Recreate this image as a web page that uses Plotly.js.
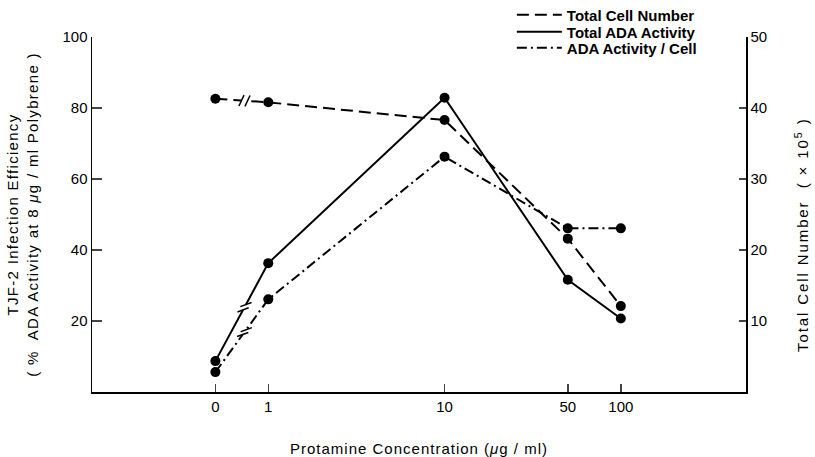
<!DOCTYPE html>
<html><head><meta charset="utf-8">
<script src="https://cdn.plot.ly/plotly-3.0.1.min.js"></script>
<style>
html,body{margin:0;padding:0;background:#fff}
.ytitle{letter-spacing:1.3px}
.xtitle{letter-spacing:1px}
.annotation-text{letter-spacing:1.9px}
</style>
</head><body><div id="chart" style="width:815px;height:457px"></div>
<script>
// ---- data ----
const concentrationLabels = ['0', '1', '10', '50', '100'];
const concentrations = [0, 1, 10, 50, 100];           // µg/ml protamine
const totalCellNumber = [41.3, 40.8, 38.3, 21.6, 12.1]; // ×10^5 cells (right axis)
const totalADAActivity = [8.7, 36.3, 82.9, 31.6, 20.7]; // % (left axis)
const adaActivityPerCell = [5.6, 26.1, 66.3, 46.1, 46.1]; // % (left axis)
const seriesNames = ['Total Cell Number', 'Total ADA Activity', 'ADA Activity / Cell'];
const leftTicks = [20, 40, 60, 80, 100];
const rightTicks = [10, 20, 30, 40, 50];

// broken log scale: 0 is placed before the axis break
const ZERO_POS = -0.3;
const xpos = concentrations.map(c => c === 0 ? ZERO_POS : Math.log10(c));

const FONT = 'Liberation Sans, Arial, Helvetica, sans-serif';
const W = 815, H = 457, ML = 92, MR = 69, MT = 37, MB = 65;
const XR = [-1.0, 2.71], Y1R = [0, 100], Y2R = [0, 50];
const PH = H - MT - MB;
const pxPerX = (W - ML - MR) / (XR[1] - XR[0]);
const pxPerY1 = PH / (Y1R[1] - Y1R[0]);
const pxPerY2 = PH / (Y2R[1] - Y2R[0]);

const dashStyles = ['12px,6px', 'solid', '10px,4px,2px,4px'];
const mk = {color: '#000', size: 10};

const traces = [
  {x: xpos, y: totalCellNumber, yaxis: 'y2', mode: 'lines+markers', showlegend: false,
   line: {color: '#000', width: 2, dash: dashStyles[0]}, marker: mk},
  {x: xpos, y: totalADAActivity, mode: 'lines+markers', showlegend: false,
   line: {color: '#000', width: 2, dash: dashStyles[1]}, marker: mk},
  {x: xpos, y: adaActivityPerCell, mode: 'lines+markers', showlegend: false,
   line: {color: '#000', width: 2, dash: dashStyles[2]}, marker: mk}
];
// legend-only entries (lines without markers), one legend per row
const legendIds = ['legend', 'legend2', 'legend3'];
seriesNames.forEach((n, i) => traces.push({x: [null], y: [null], name: n, mode: 'lines',
  legend: legendIds[i], line: {color: '#000', width: 2, dash: dashStyles[i]}, showlegend: true}));

// axis-break marks between the 0 and 1 points of each series
function breakShapes(yArr, yref, pxPerY, angleDeg) {
  const t = 0.55;
  const xm = xpos[0] + t * (xpos[1] - xpos[0]);
  const ym = yArr[0] + t * (yArr[1] - yArr[0]);
  const dx = (xpos[1] - xpos[0]) * pxPerX, dy = (yArr[1] - yArr[0]) * pxPerY;
  const L = Math.hypot(dx, dy), ux = dx / L, uy = dy / L;
  const a = angleDeg * Math.PI / 180, mx = Math.cos(a), my = Math.sin(a);
  const gap = 3, half = 6;
  const base = {type: 'line', xref: 'x', yref: yref, xsizemode: 'pixel', ysizemode: 'pixel',
                xanchor: xm, yanchor: ym, layer: 'above'};
  const out = [Object.assign({}, base, {x0: -gap * ux, x1: gap * ux, y0: -gap * uy, y1: gap * uy,
                line: {color: '#fff', width: 5}})];
  [-1, 1].forEach(s => {
    const cx = s * gap * ux, cy = s * gap * uy;
    out.push(Object.assign({}, base, {x0: cx - half * mx, x1: cx + half * mx,
      y0: cy - half * my, y1: cy + half * my, line: {color: '#000', width: 1.5}}));
  });
  return out;
}
const shapes = [].concat(
  breakShapes(totalCellNumber, 'y2', pxPerY2, 65),
  breakShapes(totalADAActivity, 'y', pxPerY1, 20),
  breakShapes(adaActivityPerCell, 'y', pxPerY1, 20)
);

const legendRowsPx = [15, 32, 48]; // row centres, px from top of the figure
const legendBase = {x: 0.642, xanchor: 'left', yanchor: 'middle', bgcolor: 'rgba(0,0,0,0)',
  font: {family: FONT, size: 15, weight: 'bold'}, itemwidth: 45};
const nb = '\u00a0';

const layout = {
  width: W, height: H,
  margin: {l: ML, r: MR, t: MT, b: MB, pad: 0, autoexpand: false},
  paper_bgcolor: '#fff', plot_bgcolor: '#fff',
  font: {family: FONT, color: '#000', size: 14},
  showlegend: true,
  xaxis: {range: XR, tickvals: xpos, ticktext: concentrationLabels, ticks: 'inside', ticklen: 8,
          tickwidth: 1.5, showline: true, linecolor: '#000', linewidth: 1.5, showgrid: false,
          zeroline: false, tickfont: {size: 15},
          title: {text: 'Protamine Concentration (<i>μ</i>g / ml)', font: {size: 15}, standoff: 30}},
  yaxis: {range: Y1R, tickvals: leftTicks, ticks: 'inside', ticklen: 10, tickwidth: 1.5,
          showline: true, linecolor: '#000', linewidth: 1.5, showgrid: false, zeroline: false,
          tickfont: {size: 15},
          title: {text: 'TJF-2 Infection Efficiency<br>(' + nb + '%' + nb + ' ADA Activity at 8 <i>μ</i>g / ml Polybrene' + nb + ')',
                  font: {size: 15}, standoff: 20}},
  yaxis2: {range: Y2R, overlaying: 'y', side: 'right', tickvals: rightTicks, ticks: 'inside',
           ticklen: 7, tickwidth: 1.5, showline: true, linecolor: '#000', linewidth: 1.5,
           showgrid: false, zeroline: false, tickfont: {size: 15}},
  annotations: [{text: 'Total Cell Number' + nb + nb + '(' + nb + '×' + nb + '10<sup>5</sup>' + nb + ')',
                 xref: 'paper', yref: 'paper', x: (802 - ML) / (W - ML - MR), y: (H - MB - 235) / PH,
                 textangle: -90, showarrow: false, font: {size: 15}, xanchor: 'center', yanchor: 'middle'}],
  shapes: shapes
};
legendIds.forEach((id, i) => {
  layout[id] = Object.assign({}, legendBase, {y: (H - MB - legendRowsPx[i]) / PH});
});
Plotly.newPlot('chart', traces, layout, {displayModeBar: false, staticPlot: true});
</script></body></html>
